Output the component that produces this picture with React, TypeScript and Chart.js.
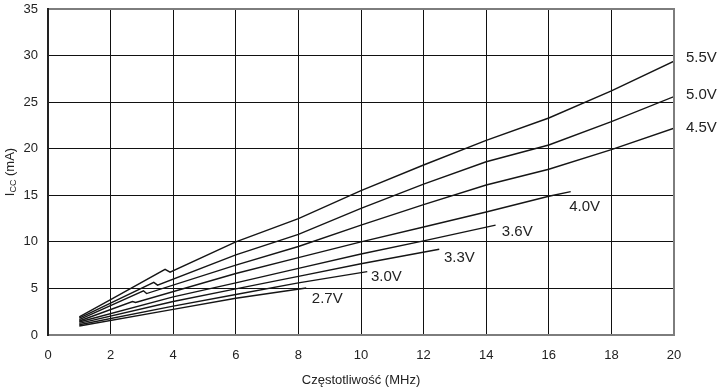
import React, { useEffect, useRef } from "react";
import { Chart, registerables } from "chart.js";

Chart.register(...registerables);

// Series data (frequency MHz -> Icc mA)
const v55X = [1, 2, 3.74, 3.9, 6, 8, 10, 12, 14, 16, 18, 20];
const v55Y = [1.95, 3.8, 7.05, 6.75, 10.0, 12.5, 15.5, 18.25, 20.9, 23.3, 26.2, 29.4];
const v50X = [1, 3.38, 3.5, 6, 8, 10, 12, 14, 16, 18, 20];
const v50Y = [1.8, 5.65, 5.35, 8.6, 10.8, 13.6, 16.2, 18.6, 20.4, 22.9, 25.6];
const v45X = [1, 3.05, 3.15, 6, 8, 10, 12, 14, 16, 18, 20];
const v45Y = [1.65, 4.75, 4.45, 7.5, 9.5, 11.8, 14.0, 16.1, 17.8, 19.9, 22.2];
const v40X = [1, 2.7, 2.8, 6, 8, 10, 12, 14, 16, 16.7];
const v40Y = [1.5, 3.6, 3.5, 6.6, 8.3, 10.0, 11.6, 13.2, 14.9, 15.4];
const v36X = [1, 4, 6, 8, 10, 12, 14.3];
const v36Y = [1.4, 4.1, 5.6, 7.15, 8.7, 10.1, 11.8];
const v33X = [1, 4, 6, 8, 10, 12.5];
const v33Y = [1.25, 3.6, 4.95, 6.3, 7.65, 9.2];
const v30X = [1, 4, 6, 8, 10.2];
const v30Y = [1.1, 3.1, 4.35, 5.6, 6.8];
const v27X = [1, 4, 6, 8.25];
const v27Y = [0.97, 2.75, 3.95, 5.05];

const seriesNames = ["5.5V", "5.0V", "4.5V", "4.0V", "3.6V", "3.3V", "3.0V", "2.7V"];
const seriesX = [v55X, v50X, v45X, v40X, v36X, v33X, v30X, v27X];
const seriesY = [v55Y, v50Y, v45Y, v40Y, v36Y, v33Y, v30Y, v27Y];

// Label anchor positions (data coords: left edge, vertical centre)
const labelX = [20.38, 20.38, 20.38, 16.65, 14.5, 12.65, 10.32, 8.43];
const labelY = [29.74, 25.77, 22.22, 13.74, 11.06, 8.27, 6.23, 3.87];

const xMin = 0, xMax = 20, xStep = 2;
const yMin = 0, yMax = 35, yStep = 5;
const xTitle = "Częstotliwość (MHz)";
const yTitleMain = "I";
const yTitleSub = "CC";
const yTitleRest = " (mA)";

const FONT = "'Liberation Sans', Arial, Helvetica, sans-serif";

export default function App() {
  const ref = useRef<HTMLCanvasElement | null>(null);

  useEffect(() => {
    document.body.style.margin = "0";
    const canvas = ref.current;
    if (!canvas) return;

    const datasets = seriesNames.map((name, i) => ({
      label: name,
      data: seriesX[i].map((x, j) => ({ x, y: seriesY[i][j] })),
      borderColor: "#151515",
      borderWidth: 1.4,
      pointRadius: 0,
      tension: 0,
      fill: false,
    }));

    const labelsPlugin = {
      id: "curveLabels",
      afterDatasetsDraw(chart: any) {
        const { ctx, scales } = chart;
        ctx.save();
        ctx.fillStyle = "#222";
        ctx.font = `15px ${FONT}`;
        ctx.textAlign = "left";
        ctx.textBaseline = "middle";
        seriesNames.forEach((name, i) => {
          ctx.fillText(name, scales.x.getPixelForValue(labelX[i]), scales.y.getPixelForValue(labelY[i]));
        });
        ctx.restore();
      },
    };

    const framePlugin = {
      id: "frameAndTitles",
      afterDraw(chart: any) {
        const { ctx, chartArea: a } = chart;
        ctx.save();
        ctx.lineWidth = 2;
        ctx.strokeStyle = "#7d7d7d";
        ctx.beginPath();
        ctx.moveTo(a.left, a.top);
        ctx.lineTo(a.right, a.top);
        ctx.lineTo(a.right, a.bottom);
        ctx.lineTo(a.left, a.bottom);
        ctx.stroke();
        ctx.strokeStyle = "#222";
        ctx.beginPath();
        ctx.moveTo(a.left, a.top - 1);
        ctx.lineTo(a.left, a.bottom + 1);
        ctx.stroke();

        // x title
        ctx.fillStyle = "#222";
        ctx.font = `13px ${FONT}`;
        ctx.textAlign = "center";
        ctx.textBaseline = "alphabetic";
        ctx.fillText(xTitle, (a.left + a.right) / 2, 384);

        // y title with subscript
        const cy = (a.top + a.bottom) / 2;
        ctx.translate(13.5, cy);
        ctx.rotate(-Math.PI / 2);
        ctx.textAlign = "left";
        ctx.font = `13px ${FONT}`;
        const w1 = ctx.measureText(yTitleMain).width;
        const w3 = ctx.measureText(yTitleRest).width;
        ctx.font = `9px ${FONT}`;
        const w2 = ctx.measureText(yTitleSub).width;
        let x0 = -(w1 + w2 + w3) / 2;
        ctx.font = `13px ${FONT}`;
        ctx.fillText(yTitleMain, x0, 0);
        x0 += w1;
        ctx.font = `9px ${FONT}`;
        ctx.fillText(yTitleSub, x0, 2.5);
        x0 += w2;
        ctx.font = `13px ${FONT}`;
        ctx.fillText(yTitleRest, x0, 0);
        ctx.restore();
      },
    };

    const chart = new Chart(canvas, {
      type: "line",
      data: { datasets },
      options: {
        animation: false,
        responsive: true,
        maintainAspectRatio: false,
        layout: { padding: { top: 9, right: 51, bottom: 0, left: 0 } },
        plugins: { legend: { display: false }, tooltip: { enabled: false } },
        scales: {
          x: {
            type: "linear",
            min: xMin,
            max: xMax,
            afterFit: (s: any) => { s.height = 53; s.paddingLeft = 0; s.paddingRight = 0; },
            ticks: { stepSize: xStep, padding: 13, color: "#222", font: { size: 13, family: FONT } },
            grid: { color: "#111", lineWidth: 1, drawTicks: false },
            border: { display: false },
          },
          y: {
            type: "linear",
            min: yMin,
            max: yMax,
            afterFit: (s: any) => { s.width = 48; s.paddingTop = 0; s.paddingBottom = 0; },
            ticks: { stepSize: yStep, padding: 10, color: "#222", font: { size: 13, family: FONT } },
            grid: { color: "#111", lineWidth: 1, drawTicks: false },
            border: { display: false },
          },
        },
      },
      plugins: [labelsPlugin, framePlugin],
    });

    return () => chart.destroy();
  }, []);

  return (
    <div style={{ width: 725, height: 388, position: "relative" }}>
      <canvas ref={ref} />
    </div>
  );
}
